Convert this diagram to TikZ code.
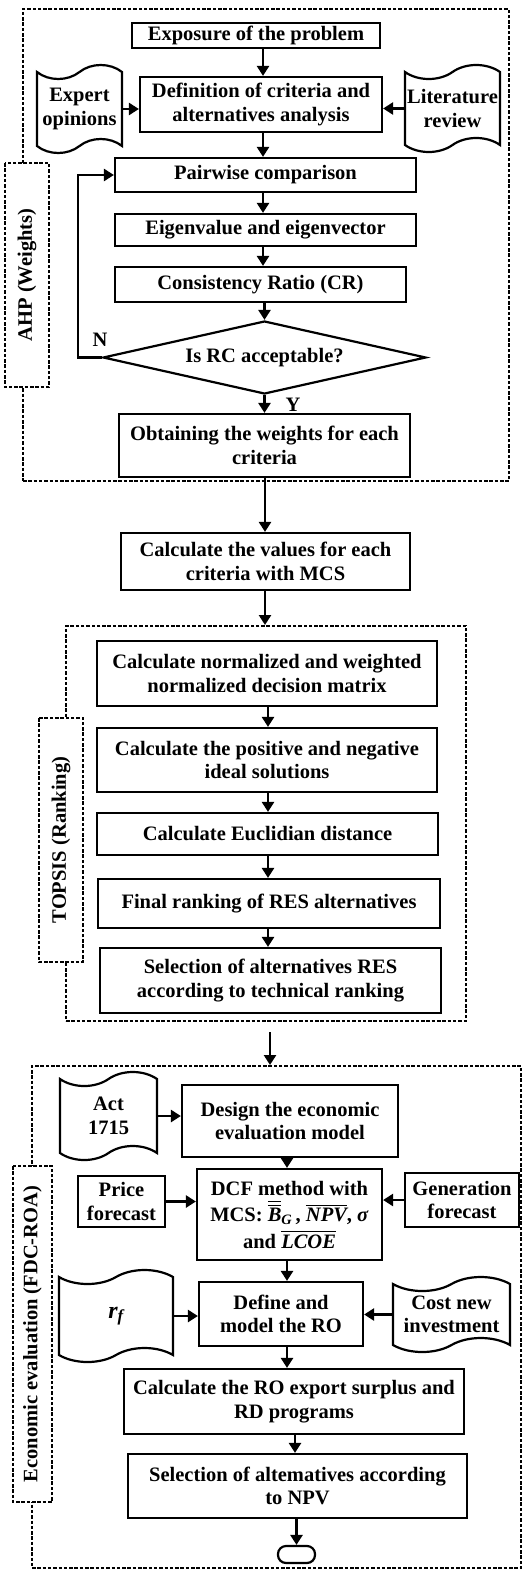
\documentclass[tikz,border=0pt]{standalone}
\usepackage{fontspec}
\setmainfont{Liberation Serif}
\usepackage{amsmath}
\usetikzlibrary{shapes.geometric,shapes.symbols,arrows.meta}
\begin{document}
\begin{tikzpicture}[x=1pt,y=-1pt,
 every node/.style={font=\fontsize{20.5}{23.5}\selectfont\bfseries},
 box/.style={draw, line width=2.2pt, align=center, inner sep=1pt},
 doc/.style={tape, draw, line width=2.2pt, align=center, inner sep=1pt, tape bend height=14pt},
 dbox/.style={draw, line width=2pt, dash pattern=on 3.5pt off 1.8pt},
 arr/.style={line width=2.8pt, -{Triangle[width=12pt,length=10pt]}},
]
\useasboundingbox (0,0) rectangle (529,1571);
\fill[white] (0,0) rectangle (529,1571);

% outer dashed boxes
\node[dbox, minimum width=486pt, minimum height=472pt] (ahp) at (266,245) {};
\node[dbox, minimum width=400pt, minimum height=395pt] (topsis) at (266,823.5) {};
\node[dbox, minimum width=489pt, minimum height=502pt] (econ) at (276.5,1317) {};

% label boxes
\node[dbox, fill=white, rotate=90, minimum width=224pt, minimum height=44pt] (ahplab) at (27,275) {AHP (Weights)};
\node[dbox, fill=white, rotate=90, minimum width=244pt, minimum height=44pt] (toplab) at (61,840) {TOPSIS (Ranking)};
\node[dbox, fill=white, rotate=90, minimum width=336pt, minimum height=39pt] (ecolab) at (32.5,1334) {Economic evaluation (FDC-ROA)};

% AHP section
\node[box, minimum width=248pt, minimum height=25pt] (expo) at (256,35.5) {Exposure of the problem};
\node[box, minimum width=242pt, minimum height=55pt] (defn) at (261,104.5) {Definition of criteria and\\alternatives analysis};
\node[doc, minimum width=85pt, minimum height=88pt] (expert) at (79.5,109) {Expert\\opinions};
\node[doc, minimum width=95pt, minimum height=87pt] (lit) at (452.5,108.5) {Literature\\review};
\node[box, minimum width=301pt, minimum height=34pt] (pair) at (265.5,175) {Pairwise comparison};
\node[box, minimum width=301pt, minimum height=32pt] (eig) at (265.5,230) {Eigenvalue and eigenvector};
\node[box, minimum width=291pt, minimum height=35pt] (cons) at (260.5,284.5) {Consistency Ratio (CR)};
\node[diamond, draw, line width=2.2pt, aspect=4.4, minimum width=323pt, minimum height=73pt, inner sep=0pt] (dia) at (264.5,357.5) {Is RC acceptable?};
\node[box, minimum width=291pt, minimum height=63pt] (weights) at (264.5,445.5) {Obtaining the weights for each\\criteria};
\node (nlab) at (100,340) {N};
\node (ylab) at (293,405) {Y};

% MCS
\node[box, minimum width=289pt, minimum height=57pt] (mcs) at (265.5,561.5) {Calculate the values for each\\criteria with MCS};

% TOPSIS section
\node[box, minimum width=340pt, minimum height=65pt] (norm) at (267,673.5) {Calculate normalized and weighted\\normalized decision matrix};
\node[box, minimum width=340pt, minimum height=64pt] (pos) at (267,760) {Calculate the positive and negative\\ideal solutions};
\node[box, minimum width=341pt, minimum height=42pt] (eucl) at (267.5,834) {Calculate Euclidian distance};
\node[box, minimum width=342pt, minimum height=49pt] (final) at (269,903.5) {Final ranking of RES alternatives};
\node[box, minimum width=341pt, minimum height=65pt] (selres) at (270.5,980.5) {Selection of alternatives RES\\according to technical\ ranking};

% Economic section
\node[doc, minimum width=97pt, minimum height=88pt] (act) at (108.5,1116) {Act\\1715};
\node[box, minimum width=216pt, minimum height=72pt] (design) at (290,1121) {Design the economic\\evaluation model};
\node[box, minimum width=185pt, minimum height=91pt] (dcf) at (289.5,1214.5) {DCF method with\\[3pt]MCS: $\overline{\overline{\textit{B}}}_{\textit{G}}$\,, $\overline{\textit{NPV}}$, \textit{σ}\\[3pt]and $\overline{\textit{LCOE}}$};
\node[box, minimum width=87pt, minimum height=51pt] (price) at (121.5,1201.5) {Price\\forecast};
\node[box, minimum width=114pt, minimum height=54pt] (gen) at (462,1200) {Generation\\forecast};
\node[doc, minimum width=114pt, minimum height=92pt, font=\fontsize{24}{26}\selectfont\bfseries] (rf) at (116,1316) {$\textit{r}_{\textit{f}}$};
\node[doc, minimum width=117pt, minimum height=75pt] (cost) at (451.5,1314.5) {Cost new\\investment};
\node[box, minimum width=164pt, minimum height=64pt] (define) at (281,1314) {Define and\\model the RO};
\node[box, minimum width=340pt, minimum height=65pt] (calcro) at (294,1401.5) {Calculate the RO export surplus and\\RD programs};
\node[box, minimum width=339pt, minimum height=64pt] (npv) at (297.5,1486) {Selection of altematives according\\to NPV};
\node[draw, line width=2.2pt, rounded corners=8pt, minimum width=37pt, minimum height=17pt, inner sep=0pt] (term) at (296.5,1554.5) {};

% axes
\coordinate (a1) at (263,0);
\coordinate (a2) at (265,0);
\coordinate (a3) at (268,0);
\coordinate (a4) at (287,0);
\coordinate (a5) at (295,0);
\coordinate (gap) at (270,1032);

% AHP arrows
\draw[arr] (expo.south -| a1) -- (defn.north -| a1);
\draw[arr] (defn.south -| a1) -- (pair.north -| a1);
\draw[arr] (pair.south -| a1) -- (eig.north -| a1);
\draw[arr] (eig.south -| a1) -- (cons.north -| a1);
\draw[arr] (cons.south -| dia.north) -- (dia.north);
\draw[arr] (dia.south) -- (dia.south |- weights.north);
\draw[arr] (dia.west) -- ++(-24,0) |- (pair.west);
\draw[arr] (expert.east) -- (expert.east -| defn.west);
\draw[arr] (lit.west) -- (lit.west -| defn.east);

% to MCS and TOPSIS
\draw[arr] (weights.south -| a2) -- (mcs.north -| a2);
\draw[arr] (mcs.south -| a2) -- (topsis.north -| a2);
\draw[arr] (norm.south -| a3) -- (pos.north -| a3);
\draw[arr] (pos.south -| a3) -- (eucl.north -| a3);
\draw[arr] (eucl.south -| a3) -- (final.north -| a3);
\draw[arr] (final.south -| a3) -- (selres.north -| a3);
\draw[arr] (gap) -- (gap |- econ.north);

% economic arrows
\draw[arr] (act.east) -- (act.east -| design.west);
\draw[arr] (design.south -| a4) -- (dcf.north -| a4);
\draw[arr] (price.east) -- (price.east -| dcf.west);
\draw[arr] (gen.west) -- (gen.west -| dcf.east);
\draw[arr] (dcf.south -| a4) -- (define.north -| a4);
\draw[arr] (rf.east) -- (rf.east -| define.west);
\draw[arr] (cost.west) -- (cost.west -| define.east);
\draw[arr] (define.south -| a4) -- (calcro.north -| a4);
\draw[arr] (calcro.south -| a5) -- (npv.north -| a5);
\draw[arr] (npv.south -| term.north) -- (term.north);
\end{tikzpicture}
\end{document}
